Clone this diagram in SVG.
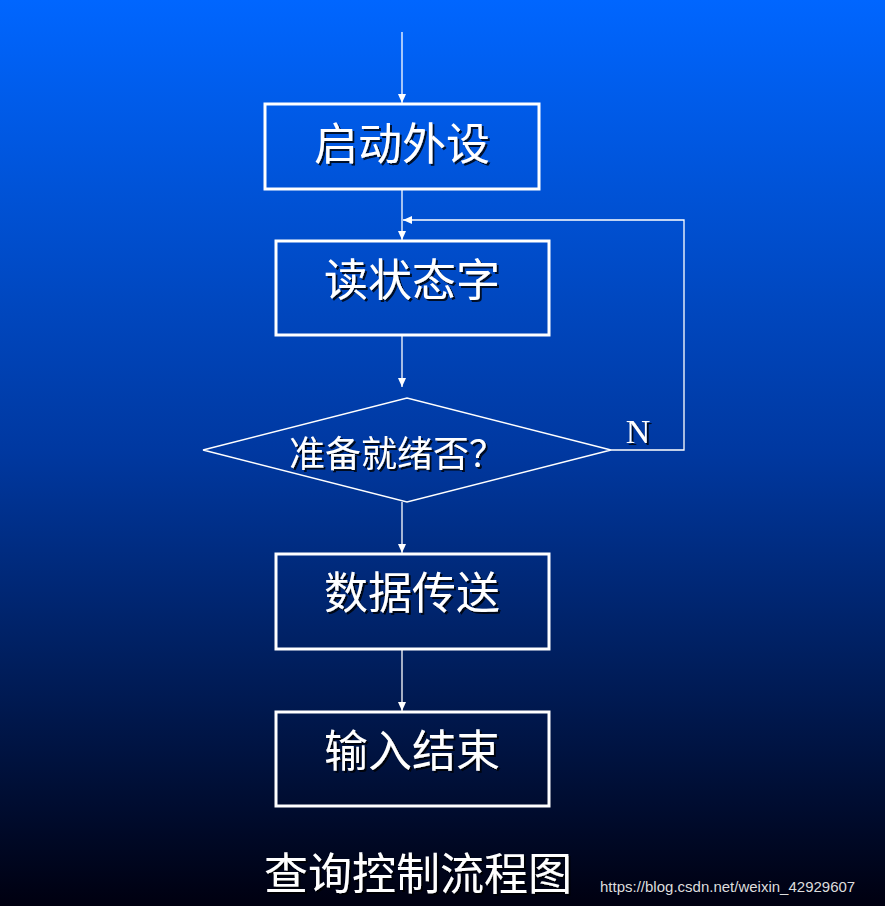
<svg xmlns="http://www.w3.org/2000/svg" width="885" height="906" viewBox="0 0 885 906">
<defs>
<linearGradient id="bg" x1="0" y1="0" x2="0" y2="1">
<stop offset="0" stop-color="#0066FF"/>
<stop offset="0.5" stop-color="#0038A0"/>
<stop offset="1" stop-color="#000010"/>
</linearGradient>
<marker id="ah" markerWidth="10" markerHeight="10" refX="9" refY="5" orient="auto" markerUnits="userSpaceOnUse">
<path d="M0,1 L9,5 L0,9 Z" fill="#fff"/>
</marker>
<filter id="sh"><feDropShadow dx="2" dy="2" stdDeviation="0.5" flood-color="#000" flood-opacity="0.8"/></filter>
</defs>
<style>
.box{fill:none;stroke:#fff;stroke-width:3}
.ln{fill:none;stroke:#fff;stroke-width:1.3}
.t{fill:#fff;font-family:"Liberation Serif","Noto Sans CJK SC",serif;text-anchor:middle;filter:url(#sh)}
</style>
<rect width="885" height="906" fill="url(#bg)"/>
<g id="connectors">
<line class="ln" x1="402" y1="32" x2="402" y2="103" marker-end="url(#ah)"/>
<line class="ln" x1="402" y1="189" x2="402" y2="240" marker-end="url(#ah)"/>
<line class="ln" x1="402" y1="335" x2="402" y2="387" marker-end="url(#ah)"/>
<line class="ln" x1="402" y1="502" x2="402" y2="553" marker-end="url(#ah)"/>
<line class="ln" x1="402" y1="649" x2="402" y2="711" marker-end="url(#ah)"/>
<polyline class="ln" points="611,450 684,450 684,220 403,220" marker-end="url(#ah)"/>
<text class="t" x="638" y="443" font-size="34">N</text>
</g>
<g id="n1"><rect class="box" x="265" y="104" width="274" height="85"/><text class="t" x="402" y="160" font-size="44">启动外设</text></g>
<g id="n2"><rect class="box" x="276" y="241" width="273" height="94"/><text class="t" x="412" y="296" font-size="44">读状态字</text></g>
<g id="n3"><polygon points="203,450 407,398 611,450 407,502" fill="none" stroke="#fff" stroke-width="1.3"/><text class="t" x="397" y="467" font-size="36">准备就绪否？</text></g>
<g id="n4"><rect class="box" x="276" y="554" width="273" height="95"/><text class="t" x="412" y="609" font-size="44">数据传送</text></g>
<g id="n5"><rect class="box" x="276" y="712" width="273" height="94"/><text class="t" x="412" y="767" font-size="44">输入结束</text></g>
<text class="t" x="418" y="890" font-size="44">查询控制流程图</text>
<text x="600" y="892" font-size="15" fill="#ddd" font-family="Liberation Sans,sans-serif">https://blog.csdn.net/weixin_42929607</text>
</svg>
